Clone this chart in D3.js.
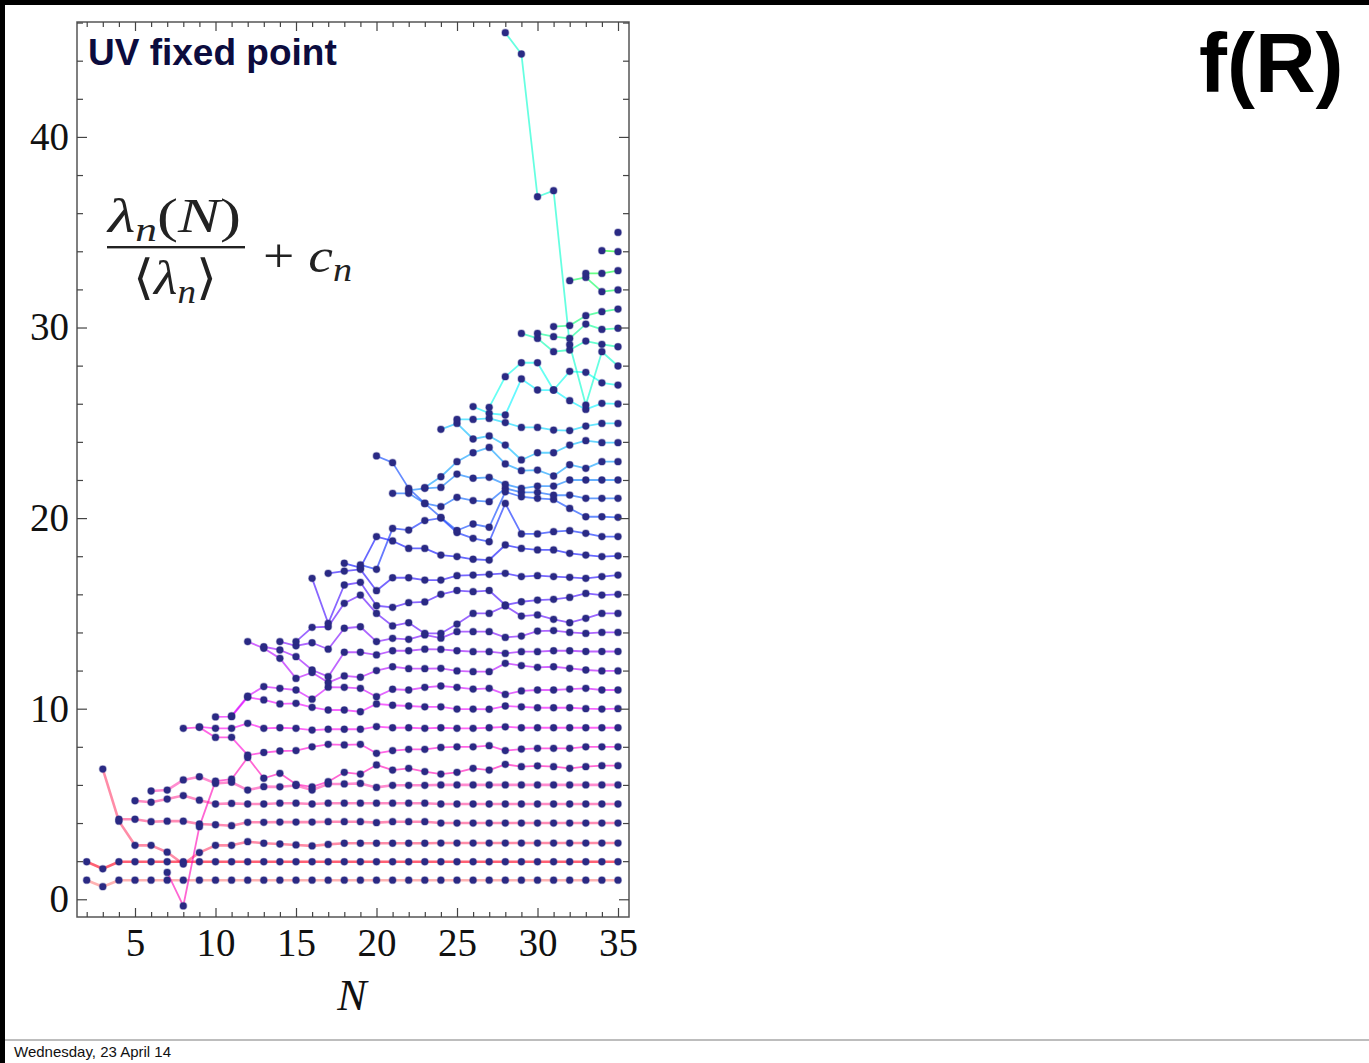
<!DOCTYPE html>
<html>
<head>
<meta charset="utf-8">
<script src="https://cdn.jsdelivr.net/npm/d3@7"></script>
<style>
  body { margin: 0; background: #fff; }
  svg text { font-family: "Liberation Serif", "DejaVu Serif", serif; }
</style>
</head>
<body>
<svg id="chart" width="1369" height="1063"></svg>
<script>
// Eigenvalue ratios per matrix size N. Each column lists values in series order:
// entry k belongs to series n = k+1 (series n first appears at N = n).
const nValues = [2,3,4,5,6,7,8,9,10,11,12,13,14,15,16,17,18,19,20,21,22,23,24,25,26,27,28,29,30,31,32,33,34,35];

const col02 = [1.0, 1.97];
const col03 = [0.66, 1.6, 6.83];
const col04 = [1.0, 1.97, 4.1, 4.2];
const col05 = [1.0, 1.97, 2.83, 4.2, 5.17];
const col06 = [1.0, 1.97, 2.83, 4.07, 5.09, 5.68];
const col07 = [1.0, 1.97, 2.47, 4.1, 5.26, 5.73, 1.41];
const col08 = [1.0, 1.97, 1.85, 4.1, 5.44, 6.26, -0.35, 8.97];
const col09 = [1.0, 1.97, 2.45, 3.95, 5.2, 6.43, 3.81, 9.02, 9.05];
const col10 = [1.0, 1.97, 2.83, 3.91, 5.0, 6.08, 6.2, 8.49, 8.97, 9.57];
const col11 = [1.0, 1.97, 2.83, 3.86, 5.03, 6.14, 6.3, 8.5, 8.97, 9.58, 9.62];
const col12 = [1.0, 1.97, 3.02, 4.04, 5.0, 5.73, 7.44, 7.56, 9.23, 10.6, 10.66, 13.52];
const col13 = [1.0, 1.97, 2.94, 4.04, 5.0, 5.91, 6.35, 7.7, 8.97, 10.46, 11.16, 13.17, 13.25];
const col14 = [1.0, 1.97, 2.9, 4.05, 5.04, 5.9, 6.61, 7.78, 9.0, 10.25, 11.07, 12.64, 13.08, 13.52];
const col15 = [1.0, 1.97, 2.85, 4.05, 5.04, 5.97, 6.03, 7.8, 8.97, 10.28, 10.98, 11.59, 12.73, 13.3, 13.52];
const col16 = [1.0, 1.97, 2.8, 4.05, 5.0, 5.73, 5.9, 8.0, 8.88, 10.07, 10.5, 11.9, 12.03, 13.46, 14.27, 16.84];
const col17 = [1.0, 1.97, 2.88, 4.07, 5.04, 6.05, 6.17, 8.13, 8.92, 9.93, 11.13, 11.37, 11.68, 13.12, 14.3, 14.48, 17.1];
const col18 = [1.0, 1.97, 2.94, 4.07, 5.04, 6.05, 6.66, 8.1, 8.92, 9.93, 11.12, 11.72, 12.96, 14.22, 15.53, 16.49, 17.22, 17.63];
const col19 = [1.0, 1.97, 2.94, 4.07, 5.04, 6.08, 6.57, 8.13, 8.92, 9.84, 11.07, 11.65, 12.96, 14.3, 15.96, 16.63, 17.31, 17.4, 17.55];
const col20 = [1.0, 1.97, 2.94, 4.02, 5.04, 5.87, 7.05, 7.66, 9.06, 10.25, 10.63, 12.0, 12.82, 13.52, 15.0, 15.4, 16.19, 19.03, 17.31, 23.26];
const col21 = [1.0, 1.97, 2.94, 4.07, 5.04, 5.98, 6.78, 7.8, 9.0, 10.18, 11.02, 12.2, 13.04, 13.69, 14.34, 15.32, 16.87, 18.8, 19.46, 22.91, 21.3];
const col22 = [1.0, 1.97, 2.94, 4.07, 5.04, 5.98, 6.87, 7.87, 9.0, 10.14, 10.98, 12.1, 13.04, 13.64, 14.51, 15.56, 16.87, 18.41, 19.37, 21.56, 21.3, 21.45];
const col23 = [1.0, 1.97, 2.94, 4.07, 5.04, 5.98, 6.7, 7.87, 8.97, 10.1, 11.12, 12.1, 13.12, 13.87, 13.95, 15.6, 16.75, 18.41, 19.87, 20.77, 20.77, 21.56, 21.6];
const col24 = [1.0, 1.97, 2.95, 4.0, 5.0, 6.0, 6.57, 7.97, 9.0, 10.1, 11.19, 12.12, 13.11, 13.7, 13.95, 16.0, 16.75, 18.06, 20.0, 20.04, 20.6, 21.61, 22.17, 24.66];
const col25 = [1.0, 1.97, 2.95, 4.0, 5.0, 6.0, 6.66, 8.0, 8.97, 9.98, 11.12, 11.98, 13.04, 14.04, 14.44, 16.2, 16.98, 17.98, 19.24, 19.35, 21.09, 22.31, 22.96, 24.97, 25.18];
const col26 = [1.0, 1.97, 2.95, 4.0, 5.0, 6.0, 6.87, 8.0, 8.97, 9.98, 11.03, 11.94, 12.99, 14.04, 15.0, 16.14, 17.01, 17.84, 18.94, 19.69, 20.92, 22.09, 23.43, 24.15, 25.18, 25.85];
const col27 = [1.0, 1.97, 2.95, 4.0, 5.0, 6.0, 6.78, 8.06, 9.0, 9.97, 11.07, 11.94, 12.99, 14.04, 15.0, 16.2, 17.05, 17.8, 18.76, 19.52, 20.86, 22.14, 23.71, 24.31, 25.23, 25.5, 25.81];
const col28 = [1.0, 1.97, 2.95, 4.0, 5.0, 6.0, 7.08, 7.8, 9.05, 10.14, 10.75, 12.38, 12.9, 13.74, 15.39, 15.44, 17.1, 18.59, 20.77, 21.38, 21.56, 21.77, 22.84, 23.83, 25.01, 25.41, 27.42, 45.47];
const col29 = [1.0, 1.97, 2.95, 4.0, 5.0, 6.0, 6.96, 7.88, 9.0, 10.1, 10.93, 12.26, 12.99, 13.81, 14.86, 15.61, 16.93, 18.41, 19.17, 21.12, 21.35, 21.56, 22.49, 23.05, 24.76, 27.3, 28.15, 44.35, 29.69];
const col30 = [1.0, 1.97, 2.95, 4.0, 5.0, 6.0, 7.0, 7.92, 9.0, 10.05, 10.98, 12.17, 12.99, 14.07, 14.92, 15.7, 16.98, 18.33, 19.17, 21.04, 21.35, 21.68, 22.52, 23.43, 24.76, 26.72, 28.15, 36.86, 29.43, 29.69];
const col31 = [1.0, 1.97, 2.95, 4.0, 5.0, 6.0, 6.96, 7.92, 9.0, 10.05, 10.98, 12.2, 13.04, 14.1, 14.69, 15.74, 16.93, 18.33, 19.29, 20.98, 21.2, 21.68, 22.21, 23.43, 24.62, 26.72, 26.72, 37.18, 28.73, 29.52, 30.05];
const col32 = [1.0, 1.97, 2.95, 4.0, 5.0, 6.0, 6.87, 7.92, 9.0, 10.05, 11.03, 12.12, 13.04, 14.0, 14.51, 15.84, 16.89, 18.15, 19.34, 20.51, 21.21, 22.0, 22.8, 23.83, 24.59, 26.16, 27.7, 29.1, 28.82, 29.43, 30.1, 32.46];
const col33 = [1.0, 1.97, 2.95, 4.0, 5.0, 6.0, 6.96, 8.0, 9.0, 10.0, 11.07, 12.03, 13.0, 13.95, 14.74, 16.05, 16.84, 18.06, 19.2, 20.07, 21.04, 22.0, 22.61, 24.06, 24.83, 25.7, 27.65, 25.93, 29.29, 30.18, 30.62, 32.63, 32.84];
const col34 = [1.0, 1.97, 2.95, 4.0, 5.0, 6.0, 7.01, 8.0, 9.0, 9.98, 10.98, 11.98, 13.0, 14.0, 15.0, 15.96, 16.93, 17.98, 19.03, 20.07, 21.04, 22.0, 22.96, 23.96, 24.97, 26.02, 27.1, 28.73, 29.12, 29.9, 30.83, 31.88, 32.84, 34.03];
const col35 = [1.0, 1.97, 2.95, 4.0, 5.0, 6.0, 7.01, 8.0, 9.0, 10.0, 10.98, 11.98, 13.0, 14.0, 15.0, 16.0, 17.01, 18.02, 19.03, 20.04, 21.04, 22.0, 22.96, 23.96, 24.97, 25.99, 26.98, 27.98, 28.99, 29.96, 30.97, 31.97, 32.98, 33.98, 34.99];

const columns = [col02, col03, col04, col05, col06, col07, col08, col09, col10, col11, col12,
  col13, col14, col15, col16, col17, col18, col19, col20, col21, col22, col23, col24, col25,
  col26, col27, col28, col29, col30, col31, col32, col33, col34, col35];

const xMajorTicks = [5, 10, 15, 20, 25, 30, 35];
const yMajorTicks = [0, 10, 20, 30, 40];

const W = 1369, H = 1063;
const svg = d3.select("#chart");

svg.append("rect").attr("width", W).attr("height", H).attr("fill", "#fff");

// slide frame: black strips on top and left, grey footer rule
svg.append("rect").attr("x", 0).attr("y", 0).attr("width", W).attr("height", 5).attr("fill", "#000");
svg.append("rect").attr("x", 0).attr("y", 0).attr("width", 5).attr("height", H).attr("fill", "#000");
svg.append("rect").attr("x", 5).attr("y", 1039).attr("width", W - 5).attr("height", 2).attr("fill", "#bdbdbd");

const plot = { left: 77, right: 629, top: 22, bottom: 917 };
const x = d3.scaleLinear().domain([1.3975, 35.683]).range([plot.left, plot.right]);
const y = d3.scaleLinear().domain([-0.93, 46.03]).range([plot.bottom, plot.top]);

// build series: series n collects entry n-1 of every column that has it
const nSeries = d3.max(columns, c => c.length);
const series = d3.range(nSeries).map(k => {
  const pts = [];
  columns.forEach((col, i) => {
    if (col.length > k) pts.push({ N: nValues[i], v: col[k] });
  });
  return { n: k + 1, pts };
});

const hue = n => (360 - (n - 1) * 7.1 + 360) % 360;
const lineColor = n => d3.hsl(hue(n), 1, 0.5).formatRgb();

svg.append("clipPath").attr("id", "plotclip").append("rect")
  .attr("x", plot.left).attr("y", plot.top)
  .attr("width", plot.right - plot.left).attr("height", plot.bottom - plot.top);

const g = svg.append("g").attr("clip-path", "url(#plotclip)");
const line = d3.line().x(d => x(d.N)).y(d => y(d.v));

g.selectAll("path.series")
  .data(series)
  .join("path")
  .attr("class", "series")
  .attr("d", d => line(d.pts))
  .attr("fill", "none")
  .attr("stroke", d => lineColor(d.n))
  .attr("stroke-width", d => d.n <= 6 ? 2.6 : 1.8)
  .attr("stroke-opacity", d => d.n === 1 ? 0.3 : d.n === 2 ? 0.62 : (d.n <= 6 ? 0.45 : 0.6))
  .attr("stroke-linejoin", "round");

const allPts = series.flatMap(s => s.pts);
g.selectAll("circle.pt")
  .data(allPts)
  .join("circle")
  .attr("class", "pt")
  .attr("cx", d => x(d.N))
  .attr("cy", d => y(d.v))
  .attr("r", 3.4)
  .attr("fill", "#2a2a84")
  .attr("stroke", "rgba(42,42,132,0.35)")
  .attr("stroke-width", 1.4);

// frame and ticks
svg.append("rect")
  .attr("x", plot.left).attr("y", plot.top)
  .attr("width", plot.right - plot.left).attr("height", plot.bottom - plot.top)
  .attr("fill", "none").attr("stroke", "#555").attr("stroke-width", 1.5);

const yMinor = d3.range(0, 47, 2);
const yMinorOnly = yMinor.filter(v => !yMajorTicks.includes(v));
const xMinorOnly = nValues.filter(v => !xMajorTicks.includes(v));

function styleAxis(sel) {
  sel.select(".domain").remove();
  sel.selectAll(".tick line").attr("stroke", "#444").attr("stroke-width", 1.2);
}

svg.append("g").attr("transform", `translate(0,${plot.bottom})`)
  .call(d3.axisBottom(x).tickValues(xMinorOnly).tickSize(-5).tickFormat(""))
  .call(styleAxis);
svg.append("g").attr("transform", `translate(0,${plot.bottom})`)
  .call(d3.axisBottom(x).tickValues(xMajorTicks).tickSize(-9).tickPadding(11).tickFormat(d3.format("d")))
  .call(styleAxis)
  .call(s => s.selectAll("text").attr("font-size", 39).attr("fill", "#111")
    .style("font-family", "'Liberation Serif', serif"));
svg.append("g").attr("transform", `translate(0,${plot.top})`)
  .call(d3.axisTop(x).tickValues(xMinorOnly).tickSize(-5).tickFormat(""))
  .call(styleAxis);
svg.append("g").attr("transform", `translate(0,${plot.top})`)
  .call(d3.axisTop(x).tickValues(xMajorTicks).tickSize(-9).tickFormat(""))
  .call(styleAxis);

svg.append("g").attr("transform", `translate(${plot.left},0)`)
  .call(d3.axisLeft(y).tickValues(yMinorOnly).tickSize(-6).tickFormat(""))
  .call(styleAxis);
svg.append("g").attr("transform", `translate(${plot.left},0)`)
  .call(d3.axisLeft(y).tickValues(yMajorTicks).tickSize(-10).tickPadding(8).tickFormat(d3.format("d")))
  .call(styleAxis)
  .call(s => s.selectAll("text").attr("font-size", 39).attr("fill", "#111")
    .style("font-family", "'Liberation Serif', serif"));
svg.append("g").attr("transform", `translate(${plot.right},0)`)
  .call(d3.axisRight(y).tickValues(yMinorOnly).tickSize(-6).tickFormat(""))
  .call(styleAxis);
svg.append("g").attr("transform", `translate(${plot.right},0)`)
  .call(d3.axisRight(y).tickValues(yMajorTicks).tickSize(-10).tickFormat(""))
  .call(styleAxis);

// axis title
svg.append("text").attr("x", 352).attr("y", 1010).attr("text-anchor", "middle")
  .attr("font-size", 44).attr("font-style", "italic").attr("fill", "#111").text("N");

// panel title
svg.append("text").attr("x", 88).attr("y", 65)
  .style("font-family", "'Liberation Sans', Arial, sans-serif")
  .attr("font-weight", "bold").attr("font-size", 37).attr("fill", "#0c0c3e")
  .text("UV fixed point");

// slide heading
svg.append("text").attr("x", 1199).attr("y", 92)
  .style("font-family", "'Liberation Sans', Arial, sans-serif")
  .attr("font-weight", "bold").attr("font-size", 84).attr("fill", "#000")
  .text("f(R)");

// footer date
svg.append("text").attr("x", 14).attr("y", 1057)
  .style("font-family", "'Liberation Sans', Arial, sans-serif")
  .attr("font-size", 15).attr("fill", "#111")
  .text("Wednesday, 23 April 14");

// formula: lambda_n(N) / <lambda_n> + c_n
const fm = svg.append("g").attr("fill", "#222");
const num = fm.append("text").attr("x", 108).attr("y", 232).attr("font-size", 48)
  .attr("textLength", 133).attr("lengthAdjust", "spacingAndGlyphs");
num.append("tspan").attr("font-style", "italic").text("λ");
num.append("tspan").attr("font-style", "italic").attr("font-size", 33).attr("dy", 9).text("n");
num.append("tspan").attr("dy", -9).text("(");
num.append("tspan").attr("font-style", "italic").text("N");
num.append("tspan").text(")");
fm.append("rect").attr("x", 107).attr("y", 246).attr("width", 138).attr("height", 2.4).attr("fill", "#222");
const den = fm.append("text").attr("x", 133).attr("y", 294).attr("font-size", 48)
  .attr("textLength", 84).attr("lengthAdjust", "spacingAndGlyphs");
den.append("tspan").text("⟨");
den.append("tspan").attr("font-style", "italic").text("λ");
den.append("tspan").attr("font-style", "italic").attr("font-size", 33).attr("dy", 9).text("n");
den.append("tspan").attr("dy", -9).text("⟩");
const tail = fm.append("text").attr("x", 263).attr("y", 272).attr("font-size", 48)
  .attr("textLength", 89).attr("lengthAdjust", "spacingAndGlyphs");
tail.append("tspan").text("+ ");
tail.append("tspan").attr("font-style", "italic").text("c");
tail.append("tspan").attr("font-style", "italic").attr("font-size", 33).attr("dy", 9).text("n");
</script>
</body>
</html>
